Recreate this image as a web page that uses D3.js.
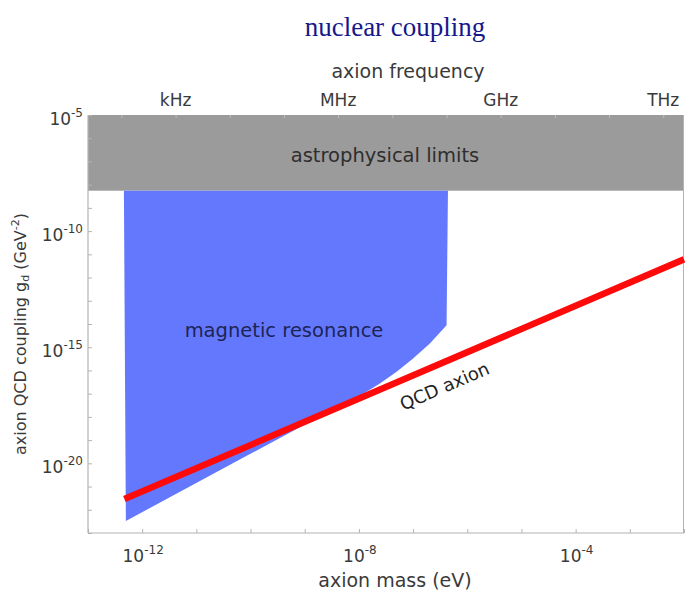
<!DOCTYPE html>
<html>
<head>
<meta charset="utf-8">
<script src="https://cdn.jsdelivr.net/npm/d3@7"></script>
<style>
  body { margin: 0; background: #fff; }
  svg { display: block; font-family: "DejaVu Sans", Verdana, sans-serif; }
</style>
</head>
<body>
<svg id="chart" width="685" height="592"></svg>
<script>
// Axion mass range (eV) and coupling range (GeV^-2)
const massDomain = [1e-13, 1e-2];
const couplingDomain = [1e-23, 1e-5];

// Tick values
const massTicks = [1e-13,1e-12,1e-11,1e-10,1e-9,1e-8,1e-7,1e-6,1e-5,1e-4,1e-3,1e-2];
const massLabelExp = [-12, -8, -4];
const couplingTicks = [1e-5,1e-6,1e-7,1e-8,1e-9,1e-10,1e-11,1e-12,1e-13,1e-14,1e-15,1e-16,1e-17,1e-18,1e-19,1e-20,1e-21,1e-22,1e-23];
const couplingLabelExp = [-5, -10, -15, -20];
const freqTicks = [1e2,1e3,1e4,1e5,1e6,1e7,1e8,1e9,1e10,1e11,1e12];
const freqLabels = [["kHz", 1e3], ["MHz", 1e6], ["GHz", 1e9], ["THz", 1e12]];
const hzPerEV = 2.418e14;

// Astrophysical limit: excluded above this coupling
const astroLimit = 5.5e-9;

// Magnetic resonance sensitivity region (mass eV, coupling GeV^-2)
const mrMass     = [4.6e-13, 4.4e-7, 4.15e-7, 2.04e-7, 1.0e-7, 4.97e-8, 2.44e-8, 1.2e-8, 5.93e-9, 5.0e-13];
const mrCoupling = [5.5e-9,  5.5e-9, 8.9e-15, 1.45e-15, 3.24e-16, 8.7e-17, 2.75e-17, 1.0e-17, 4.37e-18, 3.3e-23];

// QCD axion band (g_d proportional to m)
const qcdMass = [4.7e-13, 1e-2];
const qcdCoupling = [2.9e-22, 6.1e-12];

const svg = d3.select("#chart");
const plotLeft = 88, plotRight = 684, plotTop = 115, plotBottom = 533;

const x = d3.scaleLog().domain(massDomain).range([plotLeft, plotRight]);
const y = d3.scaleLog().domain(couplingDomain).range([plotBottom, plotTop]);
const xf = d3.scaleLog().domain(massDomain.map(m => m * hzPerEV)).range([plotLeft, plotRight]);

const axisColor = "#b4b4b4";
const textColor = "#3a3a3a";

// Title
svg.append("text")
  .attr("x", 395).attr("y", 36)
  .attr("text-anchor", "middle")
  .attr("font-family", "'Liberation Serif', 'Times New Roman', serif")
  .attr("font-size", 27)
  .attr("fill", "#16188a")
  .text("nuclear coupling");

// Astrophysical limits band
svg.append("rect")
  .attr("x", x(massDomain[0])).attr("y", y(couplingDomain[1]))
  .attr("width", x(massDomain[1]) - x(massDomain[0]))
  .attr("height", y(astroLimit) - y(couplingDomain[1]))
  .attr("fill", "#9b9b9b");

// Magnetic resonance region
const pts = mrMass.map((m, i) => [x(m), y(mrCoupling[i])]);
svg.append("path")
  .attr("d", d3.line()(pts) + "Z")
  .attr("fill", "#6478fd");

// Frame
svg.append("line").attr("x1", plotLeft).attr("x2", plotRight).attr("y1", plotBottom).attr("y2", plotBottom)
  .attr("stroke", axisColor).attr("stroke-width", 1.2);
svg.append("line").attr("x1", plotLeft).attr("x2", plotLeft).attr("y1", plotTop).attr("y2", plotBottom)
  .attr("stroke", axisColor).attr("stroke-width", 1.2);
svg.append("line").attr("x1", plotRight - 0.5).attr("x2", plotRight - 0.5).attr("y1", plotTop).attr("y2", plotBottom)
  .attr("stroke", axisColor).attr("stroke-width", 1);

// Bottom ticks (inward)
const bx = svg.append("g").attr("transform", `translate(0,${plotBottom})`)
  .call(d3.axisTop(x).tickValues(massTicks).tickSize(4).tickFormat(""));
bx.select(".domain").remove();
bx.selectAll("line").attr("stroke", axisColor);

// Left ticks (inward)
const ly = svg.append("g").attr("transform", `translate(${plotLeft},0)`)
  .call(d3.axisRight(y).tickValues(couplingTicks).tickSize(4).tickFormat(""));
ly.select(".domain").remove();
ly.selectAll("line").attr("stroke", axisColor);

// Top ticks: frequency
const tx = svg.append("g").attr("transform", `translate(0,${plotTop})`)
  .call(d3.axisBottom(xf).tickValues(freqTicks).tickSize(3).tickFormat(""));
tx.select(".domain").remove();
tx.selectAll("line").attr("stroke", "#bdbdbd");

// Power-of-ten labels
function powerLabel(g, exp, px, py, anchor) {
  const t = g.append("text")
    .attr("x", px).attr("y", py)
    .attr("text-anchor", anchor)
    .attr("font-size", 17)
    .attr("fill", textColor);
  t.append("tspan").text("10");
  t.append("tspan").attr("dy", -8).attr("font-size", 12).text(String(exp));
}
massLabelExp.forEach(e => powerLabel(svg, e, x(Math.pow(10, e)) + 1, 562, "middle"));
couplingLabelExp.forEach(e => powerLabel(svg, e, plotLeft - 5, y(Math.pow(10, e)) + 10, "end"));

// Frequency labels
svg.selectAll(".flabel").data(freqLabels).enter().append("text")
  .attr("x", d => xf(d[1])).attr("y", 106)
  .attr("text-anchor", "middle")
  .attr("font-size", 17)
  .attr("fill", textColor)
  .text(d => d[0]);

// Axis titles
svg.append("text")
  .attr("x", 408).attr("y", 78)
  .attr("text-anchor", "middle").attr("font-size", 19).attr("fill", textColor)
  .text("axion frequency");

svg.append("text")
  .attr("x", 395).attr("y", 587)
  .attr("text-anchor", "middle").attr("font-size", 19).attr("fill", textColor)
  .text("axion mass (eV)");

const yl = svg.append("text")
  .attr("transform", "translate(26,334) rotate(-90)")
  .attr("text-anchor", "middle").attr("font-size", 16).attr("fill", textColor);
yl.append("tspan").text("axion QCD coupling g");
yl.append("tspan").attr("font-size", 11).attr("dy", 3).text("d");
yl.append("tspan").attr("dy", -3).text(" (GeV");
yl.append("tspan").attr("font-size", 11).attr("dy", -7).text("-2");
yl.append("tspan").attr("dy", 7).text(")");

// Region labels
svg.append("text")
  .attr("x", 385).attr("y", 162)
  .attr("text-anchor", "middle").attr("font-size", 19.5).attr("fill", "#2e2e2e")
  .text("astrophysical limits");

svg.append("text")
  .attr("x", 284).attr("y", 337)
  .attr("text-anchor", "middle").attr("font-size", 19.5).attr("fill", "#1d2454")
  .text("magnetic resonance");

// QCD axion line
const qpts = qcdMass.map((m, i) => [x(m), y(qcdCoupling[i])]);
svg.append("path")
  .attr("d", d3.line()(qpts))
  .attr("stroke", "#ff0a0a").attr("stroke-width", 6.5)
  .attr("fill", "none");

const ang = Math.atan2(qpts[1][1] - qpts[0][1], qpts[1][0] - qpts[0][0]) * 180 / Math.PI;
svg.append("text")
  .attr("transform", `translate(447,392) rotate(${ang})`)
  .attr("text-anchor", "middle").attr("font-size", 18).attr("fill", "#222")
  .text("QCD axion");
</script>
</body>
</html>
